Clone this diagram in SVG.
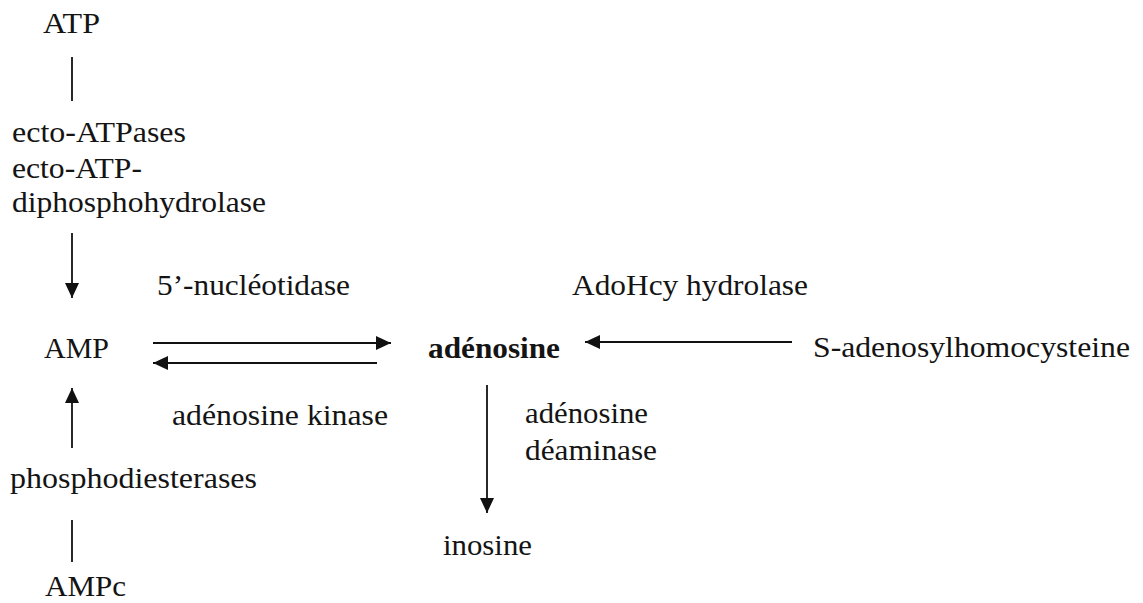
<svg xmlns="http://www.w3.org/2000/svg" width="1143" height="603" viewBox="0 0 1143 603">
<style>
text{font-family:"Liberation Serif","Times New Roman",serif;font-size:30px;fill:#141414}
.b{font-weight:bold}
.c{stroke:#111;stroke-width:1.8;fill:none}
</style>
<defs>
<marker id="ah" viewBox="0 0 15 14" refX="15" refY="7" markerWidth="15" markerHeight="14" markerUnits="userSpaceOnUse" orient="auto">
<path d="M0,0 L15,7 L0,14 Z" fill="#111"/>
</marker>
</defs>
<rect width="1143" height="603" fill="#fff"/>
<g id="connectors">
<line class="c" x1="72" y1="57" x2="72" y2="101"/>
<line class="c" x1="72" y1="233" x2="72" y2="298" marker-end="url(#ah)"/>
<line class="c" x1="153" y1="343" x2="391" y2="343" marker-end="url(#ah)"/>
<line class="c" x1="377" y1="363" x2="153" y2="363" marker-end="url(#ah)"/>
<line class="c" x1="792" y1="342" x2="585" y2="342" marker-end="url(#ah)"/>
<line class="c" x1="487" y1="385" x2="487" y2="513" marker-end="url(#ah)"/>
<line class="c" x1="72" y1="448" x2="72" y2="388" marker-end="url(#ah)"/>
<line class="c" x1="72" y1="520" x2="72" y2="562"/>
</g>
<g id="atp"><text x="43" y="33" textLength="57" lengthAdjust="spacingAndGlyphs">ATP</text></g>
<g id="ecto-enzymes">
<text x="12" y="142" textLength="174" lengthAdjust="spacingAndGlyphs">ecto-ATPases</text>
<text x="12" y="178" textLength="130" lengthAdjust="spacingAndGlyphs">ecto-ATP-</text>
<text x="12" y="212" textLength="254" lengthAdjust="spacingAndGlyphs">diphosphohydrolase</text>
</g>
<g id="nucleotidase"><text x="157" y="295" textLength="193" lengthAdjust="spacingAndGlyphs">5’-nucléotidase</text></g>
<g id="amp"><text x="44" y="358" textLength="65" lengthAdjust="spacingAndGlyphs">AMP</text></g>
<g id="adenosine"><text class="b" x="428" y="358" textLength="132" lengthAdjust="spacingAndGlyphs">adénosine</text></g>
<g id="sah"><text x="813" y="357" textLength="317" lengthAdjust="spacingAndGlyphs">S-adenosylhomocysteine</text></g>
<g id="adohcy"><text x="572" y="295" textLength="236" lengthAdjust="spacingAndGlyphs">AdoHcy hydrolase</text></g>
<g id="kinase"><text x="172" y="425" textLength="216" lengthAdjust="spacingAndGlyphs">adénosine kinase</text></g>
<g id="deaminase">
<text x="525" y="423" textLength="123" lengthAdjust="spacingAndGlyphs">adénosine</text>
<text x="525" y="460" textLength="132" lengthAdjust="spacingAndGlyphs">déaminase</text>
</g>
<g id="pde"><text x="10" y="488" textLength="247" lengthAdjust="spacingAndGlyphs">phosphodiesterases</text></g>
<g id="inosine"><text x="443" y="555" textLength="89" lengthAdjust="spacingAndGlyphs">inosine</text></g>
<g id="ampc"><text x="45" y="596" textLength="81" lengthAdjust="spacingAndGlyphs">AMPc</text></g>
</svg>
